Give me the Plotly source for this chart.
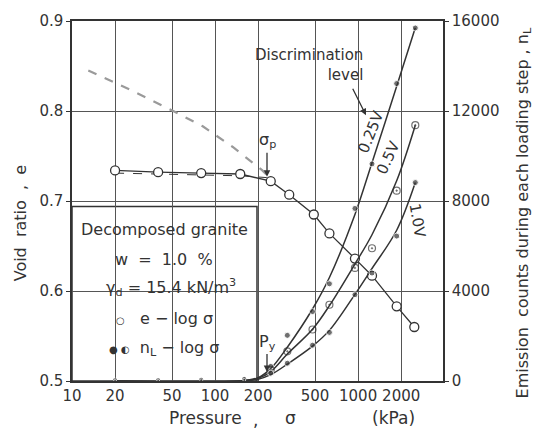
import math
import plotly.graph_objects as go

# ---------------- data ----------------
# void ratio e vs pressure (open circles)
sigma_e = [20, 40, 80, 150, 245, 330, 490, 630, 950, 1250, 1860, 2470]
void_ratio = [0.734, 0.732, 0.731, 0.730, 0.722, 0.707, 0.685, 0.664, 0.636, 0.617, 0.583, 0.560]

# thin dashed companion line under the first circles
sigma_e_dash = [20, 40, 80, 150, 230]
void_ratio_dash = [0.731, 0.730, 0.729, 0.728, 0.726]

# grey dashed curve
sigma_grey = [13, 26, 51, 82, 133, 214, 250]
e_grey = [0.845, 0.823, 0.800, 0.783, 0.760, 0.734, 0.723]

# emission counts per loading step (right axis)
sigma_ae = [20, 40, 80, 160, 245, 320, 480, 630, 950, 1250, 1860, 2510]
n_025 = [60, 60, 80, 120, 650, 2030, 3085, 4320, 7670, 9650, 13220, 15690]
n_05 = [30, 30, 50, 80, 500, 1320, 2290, 3390, 5025, 5900, 8460, 11370]
n_10 = [0, 0, 30, 50, 350, 790, 1590, 2160, 3835, 4800, 6440, 8820]

# fitted curves drawn through the emission data
sigma_fit = [20, 150, 200, 245, 320, 480, 630, 950, 1250, 1860, 2510]
fit_025 = [0, 0, 150, 550, 1500, 3200, 4600, 7400, 9700, 13100, 15700]
fit_05 = [0, 0, 120, 420, 1200, 2300, 3350, 5200, 6500, 8900, 11370]
fit_10 = [0, 0, 80, 280, 750, 1550, 2250, 3850, 5000, 6700, 8820]

x_ticks = [10, 20, 50, 100, 200, 500, 1000, 2000]
x_tick_text = ["10", "20", "50", "100", "200", "500", "1000", "2000"]
e_ticks = [0.5, 0.6, 0.7, 0.8, 0.9]
n_ticks = [0, 4000, 8000, 12000, 16000]

# ---------------- style ----------------
INK = "#333333"
FONT = "DejaVu Sans"
W, H = 537, 444
L, R, T, B = 72, 443, 18, 381


def px(x):
    return (x - L) / (R - L)


def py(y):
    return (B - y) / (B - T)


fig = go.Figure()

fig.add_trace(go.Scatter(x=sigma_grey, y=e_grey, mode="lines",
                         line=dict(color="#9a9a9a", width=2.2, dash="dash"),
                         showlegend=False))
fig.add_trace(go.Scatter(x=sigma_e_dash, y=void_ratio_dash, mode="lines",
                         line=dict(color=INK, width=1, dash="dash"),
                         showlegend=False))
fig.add_trace(go.Scatter(x=sigma_e, y=void_ratio, mode="lines+markers",
                         line=dict(color=INK, width=1.3),
                         marker=dict(symbol="circle", size=9, color="white",
                                     line=dict(color=INK, width=1.3)),
                         showlegend=False))

for fy in (fit_025, fit_05, fit_10):
    fig.add_trace(go.Scatter(x=sigma_fit, y=fy, mode="lines", yaxis="y2",
                             line=dict(color=INK, width=1.5, shape="spline"),
                             showlegend=False))

low = [s < 200 for s in sigma_ae]
sizes_full = [3 if lo else 6 for lo in low]
sizes_half = [3 if lo else 7 for lo in low]
fig.add_trace(go.Scatter(x=sigma_ae, y=n_025, mode="markers", yaxis="y2",
                         marker=dict(symbol="circle", size=sizes_full, color=INK),
                         showlegend=False))
fig.add_trace(go.Scatter(x=sigma_ae, y=n_05, mode="markers", yaxis="y2",
                         marker=dict(symbol="circle-open-dot", size=sizes_half, color=INK,
                                     line=dict(width=1.2)),
                         showlegend=False))
fig.add_trace(go.Scatter(x=sigma_ae, y=n_10, mode="markers", yaxis="y2",
                         marker=dict(symbol="circle", size=sizes_full, color=INK),
                         showlegend=False))

tickfont = dict(family=FONT, size=15, color=INK)
fig.update_layout(
    width=W, height=H,
    margin=dict(l=L, r=W - R, t=T, b=H - B, pad=0),
    paper_bgcolor="white", plot_bgcolor="white",
    font=dict(family=FONT, color=INK),
    xaxis=dict(type="log", range=[1, math.log10(3920)],
               tickvals=x_ticks, ticktext=x_tick_text, tickfont=tickfont,
               showgrid=True, gridcolor="#555555", gridwidth=1,
               showline=True, linecolor=INK, linewidth=1.5, mirror=True,
               ticks="", zeroline=False),
    yaxis=dict(range=[0.5, 0.9], tickvals=e_ticks,
               ticktext=["0.5", "0.6", "0.7", "0.8", "0.9"], tickfont=tickfont,
               showgrid=True, gridcolor="#555555", gridwidth=1,
               showline=True, linecolor=INK, linewidth=1.5,
               ticks="outside", ticklen=4, tickcolor=INK, zeroline=False),
    yaxis2=dict(range=[0, 16000], tickvals=n_ticks,
                ticktext=["0", "4000", "8000", "12000", "16000"], tickfont=tickfont,
                overlaying="y", side="right", showgrid=False,
                showline=True, linecolor=INK, linewidth=1.5,
                ticks="outside", ticklen=4, tickcolor=INK, zeroline=False),
)

# inset box
fig.add_shape(type="rect", xref="paper", yref="paper",
              x0=0, x1=px(257), y0=0, y1=py(205),
              line=dict(color=INK, width=1.5), fillcolor="white", layer="between")

ann = []


def text(x, y, s, size=15, angle=0, xa="center", ya="middle", **kw):
    ann.append(dict(x=x, y=y, xref="paper", yref="paper", text=s, showarrow=False,
                    textangle=angle, xanchor=xa, yanchor=ya,
                    font=dict(family=FONT, size=size, color=INK), **kw))


cx = px(164)
text(cx, py(228), "Decomposed granite", size=16)
text(cx, py(258), "w\u00a0\u00a0=\u00a0\u00a01.0\u00a0\u00a0%", size=16)
text(cx + 0.02, py(287), "γ<sub>d</sub> = 15.4 kN/m<sup>3</sup>", size=16)
text(cx, py(318), "<span style='font-size:10px'>○</span>\u00a0\u00a0\u00a0e − log σ", size=16)
text(cx, py(348), "<span style='font-size:10px'>● ◐</span>\u00a0\u00a0n<sub>L</sub> − log σ", size=16)

# axis titles
text(px(205), py(418), "Pressure", size=17)
text(px(255), py(420), ",", size=17)
text(px(290), py(418), "σ", size=17)
text(px(393), py(418), "(kPa)", size=17)
text(px(20), py(222), "Void\u00a0\u00a0ratio\u00a0\u00a0,\u00a0\u00a0e", size=16, angle=-90)
text(px(523), py(212), "Emission\u00a0\u00a0counts\u00a0during\u00a0each\u00a0loading\u00a0step\u00a0,\u00a0n<sub>L</sub>",
     size=16, angle=-90)

# curve labels
text(px(371), py(130), "0.25V", size=15, angle=-68)
text(px(388), py(156), "0.5V", size=15, angle=-65)
text(px(417), py(219), "1.0V", size=15, angle=80)

# discrimination level
text(px(365), py(62), "Discrimination<br>level", size=15, xa="right",
     align="right")

# arrows
def arrow(x, y, ax, ay, label=""):
    ann.append(dict(x=x, y=y, xref="paper", yref="paper", ax=ax, ay=ay,
                    axref="pixel", ayref="pixel", text=label, showarrow=True,
                    arrowhead=2, arrowsize=1, arrowwidth=1.3, arrowcolor=INK,
                    font=dict(family=FONT, size=16, color=INK)))


arrow(px(267), py(175), 0, -36, "σ<sub>p</sub>")
arrow(px(267), py(372), 0, -30, "P<sub>y</sub>")
arrow(px(366), py(113), -14, -28)

fig.update_layout(annotations=ann)
fig.write_html("out.html")
